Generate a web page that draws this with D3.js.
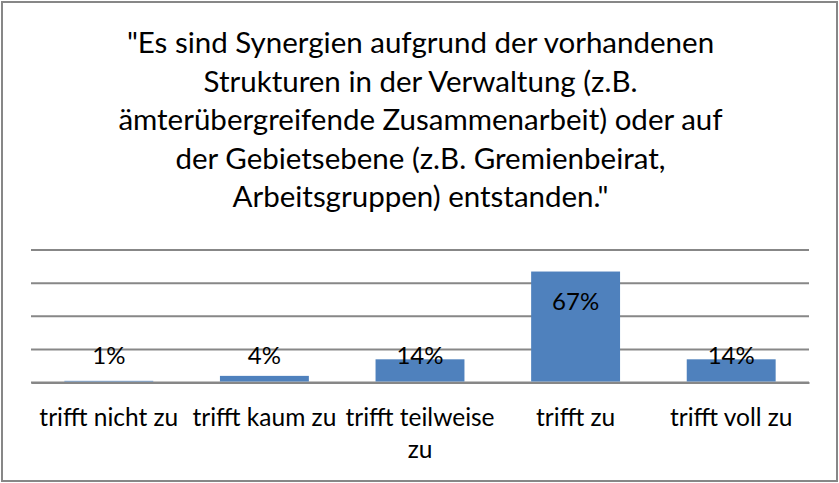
<!DOCTYPE html>
<html>
<head>
    <meta charset="utf-8">
    <script src="https://d3js.org/d3.v7.min.js"></script>
    <style>
        body { margin: 0; background: #fff; font-family: 'Lato', sans-serif; }
        svg { display: block; }
    </style>
</head>
<body>
    <div id="chart"></div>
<script>
    // chart values
    var titleLines = [
        "\"Es sind Synergien aufgrund der vorhandenen",
        "Strukturen in der Verwaltung (z.B.",
        "ämterübergreifende Zusammenarbeit) oder auf",
        "der Gebietsebene (z.B. Gremienbeirat,",
        "Arbeitsgruppen) entstanden.\""
    ];
    var categories = ["trifft nicht zu", "trifft kaum zu", "trifft teilweise zu", "trifft zu", "trifft voll zu"];
    var values = [0.01, 0.04, 0.14, 0.67, 0.14];
    var gridTicks = [0, 0.2, 0.4, 0.6, 0.8];

    var width = 839, height = 483;
    var margin = {top: 250, right: 30, bottom: 100, left: 31};

    var svg = d3.select("#chart").append("svg")
        .attr("width", width)
        .attr("height", height);

    // outer frame
    svg.append("rect")
        .attr("x", 2).attr("y", 2)
        .attr("width", width - 4).attr("height", height - 4)
        .attr("fill", "#fff")
        .attr("stroke", "#878787")
        .attr("stroke-width", 2);

    // title
    svg.append("text")
        .attr("text-anchor", "middle")
        .attr("font-size", 29.5)
        .attr("fill", "#000")
        .selectAll("tspan")
        .data(titleLines)
        .enter().append("tspan")
        .attr("x", width / 2 + 1)
        .attr("y", function(d, i) { return 53 + i * 38.5; })
        .text(function(d) { return d; });

    var x = d3.scaleBand().domain(categories).range([margin.left, 809]);
    var y = d3.scaleLinear().domain([0, 0.8]).range([382.5, 250]);
    var barW = x.bandwidth() / 1.75;

    // gridlines
    svg.append("g").selectAll("line")
        .data(gridTicks)
        .enter().append("line")
        .attr("x1", margin.left).attr("x2", 809)
        .attr("y1", function(d) { return y(d); })
        .attr("y2", function(d) { return y(d); })
        .attr("stroke", "#878787")
        .attr("stroke-width", 2);

    // bars
    svg.append("g").selectAll("rect")
        .data(values)
        .enter().append("rect")
        .attr("x", function(d, i) { return x(categories[i]) + (x.bandwidth() - barW) / 2; })
        .attr("width", barW)
        .attr("y", function(d) { return y(d); })
        .attr("height", function(d) { return y(0) - y(d) - 1; })
        .attr("fill", "#4f81bd");

    // data labels (inside end, kept above the axis)
    svg.append("g").selectAll("text")
        .data(values)
        .enter().append("text")
        .attr("text-anchor", "middle")
        .attr("font-size", 24)
        .attr("fill", "#000")
        .attr("x", function(d, i) { return x(categories[i]) + x.bandwidth() / 2; })
        .attr("y", function(d) { return Math.min(y(d) + 38, y(0) - 18.5); })
        .text(function(d) { return d3.format(".0%")(d); });

    // category labels
    var xaxis = d3.axisBottom(x).tickSize(0).tickPadding(0);
    var gx = svg.append("g")
        .attr("transform", "translate(0," + y(0) + ")")
        .call(xaxis);
    gx.select(".domain").attr("stroke", "#878787").attr("stroke-width", 2);
    gx.selectAll("text")
        .attr("font-family", "Lato, sans-serif")
        .attr("font-size", 24.5)
        .attr("fill", "#000")
        .attr("dy", null)
        .attr("y", 43)
        .each(function(d) {
            var t = d3.select(this), words = d.split(" "), line = [], lines = [];
            words.forEach(function(w) {
                t.text(line.concat(w).join(" "));
                if (this_len(t) > x.step() && line.length) { lines.push(line.join(" ")); line = [w]; }
                else line.push(w);
            });
            lines.push(line.join(" "));
            t.text(null);
            lines.forEach(function(l, i) {
                t.append("tspan").attr("x", 0).attr("y", 43 + i * 32).text(l);
            });
        });

    function this_len(t) { return t.node().getComputedTextLength(); }
</script>
</body>
</html>
